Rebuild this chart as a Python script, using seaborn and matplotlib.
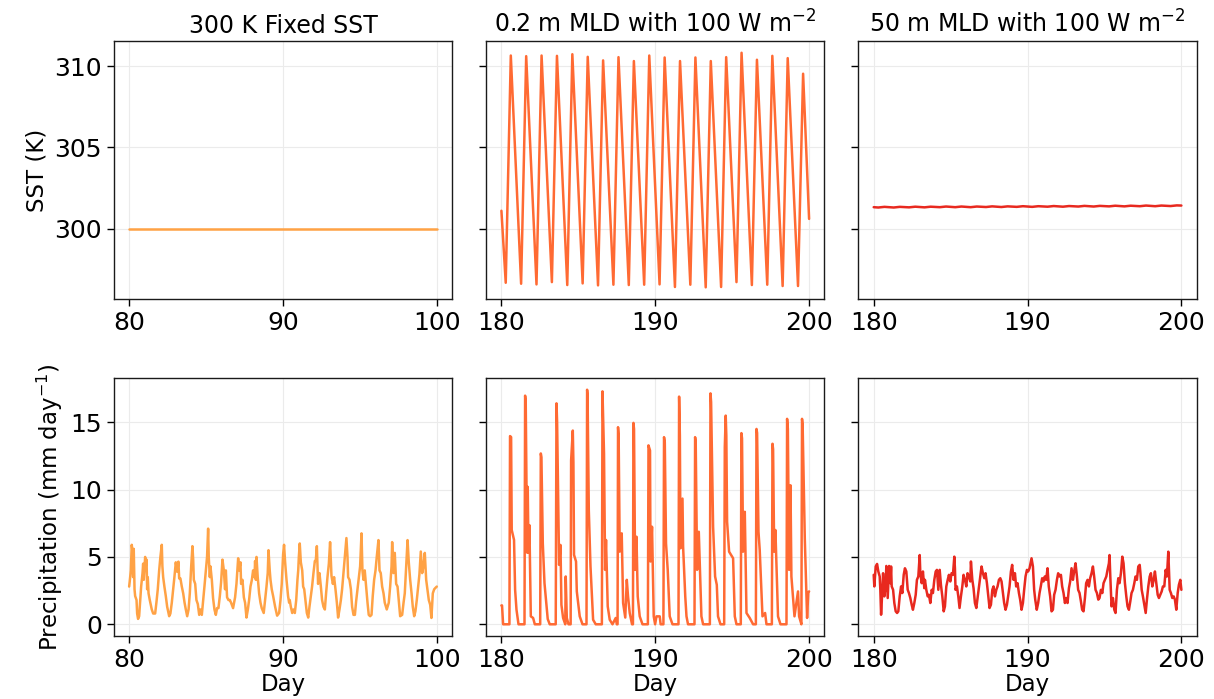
import numpy as np
import pandas as pd
import matplotlib
matplotlib.use("Agg")
import matplotlib.pyplot as plt
import seaborn as sns

# ---------------- data ----------------
titles = ["300 K Fixed SST", "0.2 m MLD with 100 W m$^{-2}$", "50 m MLD with 100 W m$^{-2}$"]
colors = ["#FFA245", "#FF6A33", "#E8291F"]

# SST, fixed 300 K
sst_fixed_day = [80.0, 100.0]
sst_fixed = [300.0, 300.0]

# SST, 0.2 m MLD
sst_mld02_day = [180.00, 180.28, 180.61, 181.28, 181.61, 182.28, 182.61, 183.28, 183.61,
                 184.28, 184.61, 185.28, 185.61, 186.28, 186.61, 187.28, 187.61, 188.28,
                 188.61, 189.28, 189.61, 190.28, 190.61, 191.28, 191.61, 192.28, 192.61,
                 193.28, 193.61, 194.28, 194.61, 195.28, 195.61, 196.28, 196.61, 197.28,
                 197.61, 198.28, 198.61, 199.28, 199.61, 200.00]
sst_mld02 = [301.1, 296.67, 310.65, 296.61, 310.61, 296.57, 310.65, 296.71, 310.63,
             296.53, 310.73, 296.63, 310.57, 296.51, 310.35, 296.55, 310.55, 296.53,
             310.31, 296.55, 310.65, 296.57, 310.53, 296.41, 310.31, 296.55, 310.53,
             296.39, 310.31, 296.41, 310.55, 296.71, 310.82, 296.53, 310.39, 296.55,
             310.63, 296.47, 310.49, 296.47, 309.53, 300.6]

# SST, 50 m MLD
sst_mld50_day = [180.0, 180.3, 180.7, 181.3, 181.7, 182.3, 182.7, 183.3, 183.7, 184.3, 184.7,
                 185.3, 185.7, 186.3, 186.7, 187.3, 187.7, 188.3, 188.7, 189.3, 189.7,
                 190.3, 190.7, 191.3, 191.7, 192.3, 192.7, 193.3, 193.7, 194.3, 194.7,
                 195.3, 195.7, 196.3, 196.7, 197.3, 197.7, 198.3, 198.7, 199.3, 199.7, 200.0]
sst_mld50 = [301.32, 301.30, 301.34, 301.30, 301.34, 301.31, 301.35, 301.31, 301.35, 301.32, 301.36,
             301.32, 301.36, 301.32, 301.36, 301.33, 301.37, 301.33, 301.37, 301.34, 301.38,
             301.34, 301.38, 301.35, 301.39, 301.35, 301.39, 301.36, 301.40, 301.36, 301.40,
             301.37, 301.41, 301.37, 301.41, 301.38, 301.42, 301.38, 301.42, 301.39, 301.43, 301.42]

# Precipitation, fixed SST
pr_fixed_day = [80.00, 80.04, 80.11, 80.17, 80.22, 80.26, 80.30, 80.35, 80.39, 80.48, 80.52, 80.58,
                80.65, 80.74, 80.78, 80.87, 80.91, 80.95, 81.04, 81.08, 81.13, 81.17, 81.21, 81.26,
                81.34, 81.47, 81.56, 81.69, 81.77, 81.86, 81.95, 82.03, 82.12, 82.16, 82.21, 82.29,
                82.38, 82.47, 82.60, 82.68, 82.77, 82.86, 82.94, 83.03, 83.12, 83.20, 83.25, 83.33,
                83.42, 83.51, 83.60, 83.68, 83.77, 83.86, 83.94, 84.03, 84.11, 84.16, 84.20, 84.29,
                84.37, 84.46, 84.55, 84.63, 84.72, 84.81, 84.89, 84.98, 85.06, 85.13, 85.17, 85.24,
                85.28, 85.37, 85.45, 85.54, 85.63, 85.71, 85.80, 85.89, 85.97, 86.06, 86.15, 86.23,
                86.28, 86.36, 86.45, 86.54, 86.62, 86.75, 86.88, 86.97, 87.08, 87.14, 87.23, 87.27,
                87.36, 87.45, 87.53, 87.62, 87.71, 87.79, 87.88, 87.97, 88.05, 88.14, 88.18, 88.23,
                88.27, 88.35, 88.44, 88.53, 88.61, 88.74, 88.83, 88.92, 89.00, 89.05, 89.13, 89.18,
                89.26, 89.35, 89.48, 89.61, 89.74, 89.83, 89.91, 90.00, 90.06, 90.13, 90.22, 90.32,
                90.39, 90.43, 90.50, 90.59, 90.67, 90.76, 90.85, 90.93, 90.98, 91.02, 91.08, 91.15,
                91.24, 91.30, 91.37, 91.45, 91.54, 91.63, 91.71, 91.80, 91.88, 91.97, 92.06, 92.12,
                92.19, 92.23, 92.27, 92.36, 92.45, 92.53, 92.62, 92.71, 92.79, 92.88, 92.97, 93.05,
                93.14, 93.23, 93.31, 93.40, 93.49, 93.57, 93.66, 93.75, 93.83, 93.92, 94.01, 94.11,
                94.18, 94.22, 94.31, 94.40, 94.48, 94.57, 94.66, 94.74, 94.83, 94.92, 95.00, 95.09,
                95.15, 95.22, 95.30, 95.39, 95.48, 95.56, 95.65, 95.74, 95.82, 95.91, 96.00, 96.08,
                96.19, 96.26, 96.34, 96.43, 96.52, 96.60, 96.73, 96.86, 96.95, 97.04, 97.08, 97.17,
                97.25, 97.34, 97.43, 97.51, 97.60, 97.73, 97.82, 97.90, 97.99, 98.08, 98.16, 98.25,
                98.34, 98.42, 98.51, 98.59, 98.68, 98.77, 98.85, 98.94, 99.03, 99.11, 99.20, 99.29,
                99.37, 99.46, 99.55, 99.63, 99.72, 99.81, 99.89, 99.98]
pr_fixed = [2.8, 3.2, 4.0, 5.9, 5.4, 3.5, 5.6, 2.6, 2.1, 1.8, 0.8, 0.4,
            0.6, 2.1, 2.8, 3.8, 4.5, 3.3, 5.0, 4.3, 4.8, 2.6, 3.5, 2.3,
            1.8, 1.1, 0.8, 0.8, 1.6, 2.6, 4.0, 5.0, 5.9, 4.3, 3.5, 2.8,
            2.1, 1.3, 0.6, 0.8, 1.6, 2.6, 3.5, 4.6, 3.9, 4.65, 3.4, 3.4,
            2.8, 2.3, 1.6, 1.1, 0.6, 1.1, 2.3, 4.3, 5.8, 4.8, 3.3, 3.0,
            1.8, 1.5, 0.7, 1.1, 0.7, 1.8, 2.8, 4.0, 5.0, 7.1, 5.0, 3.5,
            4.3, 3.3, 1.95, 1.1, 0.7, 1.2, 1.2, 2.1, 3.1, 4.8, 4.0, 2.6,
            4.0, 2.0, 1.8, 1.8, 1.6, 1.2, 2.0, 3.0, 4.9, 4.0, 4.6, 3.0,
            3.3, 2.0, 1.6, 0.5, 1.1, 1.8, 2.8, 3.3, 4.0, 3.5, 4.7, 3.3,
            5.0, 3.5, 2.3, 1.6, 1.2, 0.84, 1.8, 2.8, 3.8, 5.5, 4.0, 3.3,
            2.6, 2.1, 1.3, 0.64, 0.84, 1.8, 3.0, 5.2, 5.9, 4.6, 3.3, 2.1,
            1.6, 1.8, 1.3, 0.84, 1.1, 0.84, 1.8, 3.3, 4.0, 5.0, 6.0, 4.6,
            4.0, 2.8, 2.6, 1.8, 0.84, 0.5, 1.3, 2.1, 2.8, 3.8, 4.7, 4.7,
            5.8, 4.3, 3.0, 3.8, 2.8, 1.8, 1.3, 1.1, 2.3, 3.5, 4.5, 6.1,
            3.6, 3.0, 3.5, 2.6, 1.6, 0.5, 1.1, 1.8, 2.6, 3.8, 5.0, 6.4,
            5.0, 3.5, 3.3, 2.6, 1.3, 0.7, 0.7, 1.7, 2.6, 3.5, 4.3, 6.75,
            4.0, 3.3, 4.0, 2.8, 1.6, 0.7, 0.6, 0.7, 2.1, 3.3, 4.0, 5.0,
            6.25, 4.0, 3.8, 2.8, 2.3, 1.6, 1.1, 1.6, 2.8, 4.3, 6.1, 3.8,
            5.3, 3.0, 2.8, 1.8, 0.6, 0.7, 1.6, 2.3, 4.3, 6.25, 4.6, 3.3,
            2.3, 1.3, 0.6, 0.96, 1.8, 2.8, 3.7, 5.4, 3.8, 4.3, 5.3, 3.3,
            2.6, 1.8, 1.45, 0.47, 2.3, 2.6, 2.7, 2.8]

# Precipitation, 0.2 m MLD
pr_mld02_day = [180.00, 180.04, 180.11, 180.52, 180.56, 180.63, 180.67, 180.82, 180.89, 180.98, 181.11,
                181.50, 181.54, 181.58, 181.67, 181.71, 181.76, 181.82, 181.91, 182.06, 182.17,
                182.52, 182.56, 182.60, 182.69, 182.80, 182.93, 183.01, 183.14,
                183.53, 183.56, 183.58, 183.62, 183.75, 183.84, 183.90, 184.01, 184.15, 184.18, 184.25, 184.36,
                184.50, 184.53, 184.64, 184.68, 184.72, 184.85, 184.90, 185.09, 185.27,
                185.53, 185.57, 185.60, 185.68, 185.79, 185.96, 186.13,
                186.53, 186.57, 186.67, 186.74, 186.80, 186.91, 187.04, 187.22, 187.43, 187.50,
                187.55, 187.58, 187.62, 187.69, 187.82, 187.91, 188.05, 188.15, 188.23, 188.34, 188.49,
                188.55, 188.58, 188.62, 188.69, 188.78, 188.86, 188.99, 189.17,
                189.52, 189.56, 189.66, 189.69, 189.79, 189.90, 189.99, 190.08, 190.29, 190.35,
                190.53, 190.57, 190.62, 190.70, 190.81, 190.94, 191.12,
                191.51, 191.55, 191.60, 191.64, 191.77, 191.81, 191.95, 192.03, 192.13,
                192.55, 192.59, 192.63, 192.72, 192.83, 193.00, 193.11,
                193.55, 193.59, 193.63, 193.76, 193.89, 194.00, 194.08, 194.24,
                194.48, 194.52, 194.58, 194.62, 194.67, 194.80, 195.06, 195.17, 195.28,
                195.56, 195.60, 195.64, 195.71, 195.82, 195.93, 196.14, 196.36,
                196.54, 196.58, 196.62, 196.71, 196.79, 196.97, 197.14, 197.23,
                197.58, 197.62, 197.66, 197.73, 197.81, 197.98, 198.14,
                198.53, 198.57, 198.62, 198.70, 198.79, 198.85, 199.05, 199.28, 199.35,
                199.50, 199.54, 199.58, 199.72, 199.87, 199.95, 200.00]
pr_mld02 = [1.4, 1.4, 0.0, 0.0, 13.97, 13.9, 7.0, 6.26, 2.56, 1.08, 0.0,
            0.0, 16.97, 16.5, 5.32, 10.2, 5.32, 7.36, 0.59, 0.47, 0.0,
            0.0, 12.68, 12.4, 6.0, 3.05, 1.45, 0.39, 0.0,
            0.0, 11.43, 16.4, 15.0, 4.41, 5.89, 1.45, 0.47, 0.0, 3.55, 0.47, 0.0,
            0.0, 12.17, 14.38, 12.0, 5.15, 4.66, 2.44, 0.59, 0.0,
            0.0, 17.41, 17.0, 8.47, 4.29, 0.34, 0.0,
            0.0, 17.29, 12.66, 4.04, 6.26, 1.33, 0.34, 0.0, 0.47, 0.0,
            0.0, 14.63, 14.0, 5.39, 6.75, 1.58, 0.5, 3.3, 2.07, 0.84, 0.0,
            0.0, 14.95, 14.5, 4.04, 6.5, 2.07, 0.59, 0.0,
            0.0, 13.28, 12.9, 4.66, 7.24, 0.59, 0.0, 0.59, 0.59, 0.0,
            0.0, 13.89, 13.5, 6.0, 4.04, 0.59, 0.0,
            0.0, 16.9, 14.0, 5.64, 9.33, 5.76, 2.07, 0.59, 0.0,
            0.0, 13.89, 13.5, 4.04, 6.87, 0.59, 0.0,
            0.0, 17.14, 16.5, 7.24, 3.55, 2.93, 0.59, 0.0,
            0.0, 13.15, 15.49, 14.0, 7.61, 5.39, 4.9, 0.59, 0.0,
            0.0, 14.19, 13.8, 5.39, 8.35, 0.84, 0.47, 0.0,
            0.0, 14.5, 14.2, 6.87, 5.52, 0.59, 0.84, 0.0,
            0.0, 13.4, 13.0, 5.39, 7.0, 0.59, 0.0,
            0.0, 15.25, 14.5, 4.04, 10.32, 3.55, 0.59, 2.44, 0.59,
            0.0, 15.25, 14.8, 6.38, 0.47, 2.4, 2.44]

# Precipitation, 50 m MLD
pr_mld50_day = [180.00, 180.04, 180.13, 180.22, 180.30, 180.39, 180.43, 180.48, 180.52, 180.61, 180.69,
                180.78, 180.82, 180.91, 181.00, 181.08, 181.13, 181.17, 181.26, 181.34, 181.43, 181.52,
                181.60, 181.69, 181.78, 181.86, 181.95, 182.03, 182.12, 182.21, 182.29, 182.38, 182.47,
                182.55, 182.64, 182.73, 182.81, 182.90, 182.99, 183.03, 183.12, 183.20, 183.29, 183.33,
                183.42, 183.51, 183.59, 183.68, 183.77, 183.85, 183.94, 184.03, 184.11, 184.20, 184.29,
                184.37, 184.46, 184.55, 184.63, 184.72, 184.81, 184.89, 184.98, 185.06, 185.15, 185.24,
                185.28, 185.32, 185.41, 185.50, 185.58, 185.67, 185.76, 185.84, 185.93, 186.02, 186.10,
                186.19, 186.28, 186.32, 186.41, 186.49, 186.58, 186.67, 186.75, 186.84, 186.93, 187.01,
                187.10, 187.19, 187.27, 187.36, 187.45, 187.53, 187.62, 187.71, 187.79, 187.88, 187.97,
                188.05, 188.14, 188.23, 188.31, 188.40, 188.48, 188.57, 188.66, 188.74, 188.83, 188.92,
                189.00, 189.09, 189.18, 189.26, 189.35, 189.44, 189.52, 189.61, 189.70, 189.78, 189.87,
                189.96, 190.04, 190.13, 190.22, 190.26, 190.35, 190.43,
                190.50, 190.60, 190.69, 190.78, 190.86, 190.95, 191.04, 191.12, 191.21, 191.30, 191.38,
                191.47, 191.56, 191.65, 191.73, 191.82, 191.91, 191.99, 192.08, 192.17, 192.25, 192.34,
                192.43, 192.51, 192.60, 192.69, 192.77, 192.86, 192.95, 193.03, 193.12, 193.21, 193.29,
                193.38, 193.47, 193.55, 193.64, 193.73, 193.81, 193.90, 193.99, 194.07, 194.16, 194.25,
                194.33, 194.42, 194.51, 194.60, 194.68, 194.77, 194.86, 194.94, 195.03, 195.12, 195.20,
                195.29, 195.33, 195.38, 195.46, 195.55, 195.64, 195.72, 195.81, 195.90, 195.98, 196.07,
                196.16, 196.24, 196.33, 196.42, 196.50, 196.59, 196.68, 196.76, 196.85, 196.94, 197.02,
                197.11, 197.20, 197.29, 197.33, 197.42, 197.50, 197.59, 197.68, 197.76, 197.85, 197.94,
                198.02, 198.11, 198.20, 198.28, 198.37, 198.46, 198.54, 198.63, 198.72, 198.80, 198.89,
                198.98, 199.06, 199.15, 199.24, 199.32, 199.41, 199.50, 199.58, 199.67, 199.76, 199.84,
                199.93, 200.00]
pr_mld50 = [3.67, 2.81, 4.29, 4.48, 3.92, 3.55, 2.56, 0.71, 1.58, 3.79, 2.07,
            2.93, 4.33, 1.95, 4.33, 3.05, 4.29, 2.81, 2.56, 1.58, 0.96, 0.84,
            0.96, 2.07, 2.81, 2.32, 3.67, 4.16, 3.92, 2.56, 2.32, 1.95, 1.45,
            1.08, 1.58, 2.19, 3.30, 3.55, 5.14, 3.79, 3.05, 3.92, 2.68, 3.30,
            2.56, 2.07, 2.19, 1.58, 2.56, 2.32, 3.30, 3.92, 4.04, 2.56, 4.04,
            2.93, 2.07, 0.96, 1.33, 2.81, 3.30, 3.67, 3.18, 3.79, 3.67, 5.02,
            4.16, 2.56, 2.81, 2.07, 1.21, 2.07, 2.81, 3.67, 3.30, 2.81, 3.79,
            3.55, 3.18, 4.66, 3.30, 2.68, 1.58, 1.21, 1.95, 2.81, 3.55, 4.29,
            3.79, 3.42, 3.79, 3.05, 2.07, 1.21, 1.45, 2.56, 2.81, 2.07, 2.56,
            2.81, 3.30, 3.42, 3.18, 2.32, 1.58, 1.08, 1.45, 2.07, 2.81, 3.92,
            4.41, 3.30, 3.79, 2.81, 3.05, 2.32, 1.83, 1.08, 1.58, 2.56, 3.55,
            4.04, 3.92, 4.16, 4.66, 4.90, 4.29, 2.56,
            1.83, 1.08, 1.58, 2.32, 2.81, 3.42, 3.18, 3.55, 3.30, 4.16, 2.81,
            2.07, 0.96, 1.08, 2.19, 2.56, 3.30, 3.79, 3.55, 3.67, 2.81, 2.32,
            1.58, 1.95, 1.58, 2.68, 3.18, 4.16, 3.30, 3.92, 4.53, 3.55, 2.56,
            2.32, 1.70, 1.08, 0.96, 1.95, 3.05, 3.30, 2.81, 3.42, 3.79, 4.29,
            3.55, 2.56, 2.32, 1.83, 1.95, 2.56, 2.32, 3.05, 3.30, 3.55, 4.04,
            4.53, 5.14, 3.55, 1.33, 1.95, 1.08, 0.84, 2.56, 3.42, 3.05, 3.79,
            5.02, 4.53, 3.05, 2.07, 1.33, 1.08, 1.70, 2.32, 2.56, 3.05, 3.55,
            3.30, 4.29, 4.41, 3.92, 2.56, 2.07, 1.45, 0.84, 1.83, 2.81, 3.55,
            3.79, 2.81, 3.30, 3.92, 3.05, 2.19, 1.95, 2.19, 2.44, 2.81, 2.81,
            4.04, 3.55, 5.39, 2.56, 2.32, 1.95, 2.07, 1.83, 1.08, 2.32, 2.93,
            3.30, 2.56]

sst_days = [sst_fixed_day, sst_mld02_day, sst_mld50_day]
sst_vals = [sst_fixed, sst_mld02, sst_mld50]
pr_days = [pr_fixed_day, pr_mld02_day, pr_mld50_day]
pr_vals = [pr_fixed, pr_mld02, pr_mld50]
xticks = [[80, 90, 100], [180, 190, 200], [180, 190, 200]]

# ---------------- plot ----------------
sns.set_style("ticks")
plt.rcParams["font.family"] = ["DejaVu Sans"]
plt.rcParams["text.color"] = "black"
plt.rcParams["axes.labelcolor"] = "black"
plt.rcParams["xtick.color"] = "black"
plt.rcParams["ytick.color"] = "black"

fig, axes = plt.subplots(2, 3, figsize=(12.14, 6.99), dpi=100, sharey="row")
fig.subplots_adjust(left=0.0937, right=0.9858, top=0.9413, bottom=0.0901,
                    wspace=0.1, hspace=0.306)

TICK_FS = 18
LABEL_FS = 16.5
for j in range(3):
    for i, (days, vals) in enumerate([(sst_days[j], sst_vals[j]), (pr_days[j], pr_vals[j])]):
        ax = axes[i, j]
        df = pd.DataFrame({"day": days, "val": vals})
        sns.lineplot(data=df, x="day", y="val", ax=ax, color=colors[j], lw=1.8,
                     estimator=None, errorbar=None, sort=False)
        ax.set_xticks(xticks[j])
        ax.grid(True, color="#ebebeb", lw=0.8)
        ax.set_axisbelow(True)
        ax.tick_params(labelsize=TICK_FS, length=5, width=1.0, colors="black")
        for s in ax.spines.values():
            s.set_color("0.1")
            s.set_linewidth(1.0)
        ax.set_xlabel("")
        ax.set_ylabel("")
    axes[0, j].set_title(titles[j], fontsize=17, color="black")
    axes[1, j].set_xlabel("Day", fontsize=LABEL_FS, labelpad=1)

axes[0, 0].set_ylabel("SST (K)", fontsize=LABEL_FS)
axes[1, 0].set_ylabel("Precipitation (mm day$^{-1}$)", fontsize=LABEL_FS)
axes[0, 0].set_yticks([300, 305, 310])
axes[1, 0].set_yticks([0, 5, 10, 15])
for ax in axes[:, 1:].ravel():
    ax.tick_params(labelleft=False)

fig.savefig("out.png", dpi=100)
